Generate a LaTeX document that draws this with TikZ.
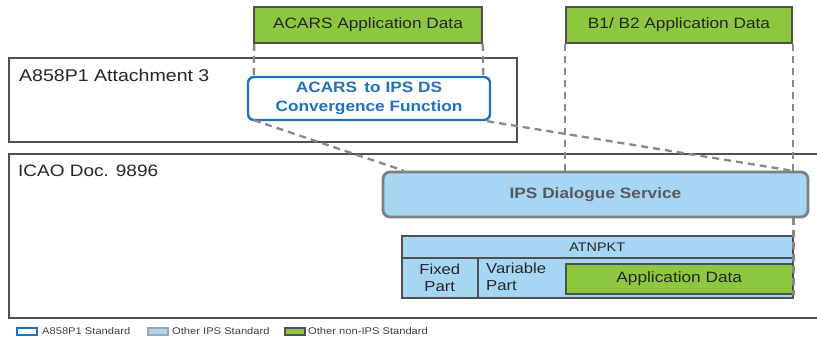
\documentclass[tikz,border=0pt]{standalone}
\usepackage{fontspec}
\setmainfont{Liberation Sans}[FakeStretch=1.15]
\usetikzlibrary{calc}
\definecolor{appgreen}{HTML}{8DC63F}
\definecolor{ipsblue}{HTML}{A7D5F4}
\definecolor{convblue}{HTML}{1F72BE}
\definecolor{dashgray}{HTML}{888888}
\definecolor{framegray}{HTML}{505050}
\definecolor{ipsborder}{HTML}{7F7F7F}
\definecolor{txtgray}{HTML}{595959}
\tikzset{
  greenbox/.style={draw=framegray, fill=appgreen, line width=1.6pt, inner sep=0pt,
    font=\fontsize{15}{18}\selectfont, text=black!85},
  framebox/.style={draw=framegray, line width=2pt, inner sep=0pt},
  convbox/.style={draw=convblue, fill=white, line width=2.4pt, rounded corners=6pt, inner sep=0pt,
    align=center, text=convblue, font=\fontsize{15}{19}\selectfont\bfseries},
  ipsbox/.style={draw=ipsborder, fill=ipsblue, line width=2.8pt, rounded corners=7pt, inner sep=0pt,
    text=txtgray, font=\fontsize{15}{18}\selectfont\bfseries},
  pktcell/.style={draw=framegray, fill=ipsblue, line width=1.5pt, inner sep=0pt,
    font=\fontsize{14.5}{17}\selectfont, text=black!85},
  dashline/.style={draw=dashgray, line width=2.3pt, dash pattern=on 7pt off 5pt},
  heading/.style={anchor=west, inner sep=0pt, font=\fontsize{17}{19}\selectfont, text=black!85},
  legicon/.style={minimum width=20pt, minimum height=7pt, inner sep=0pt, line width=1.3pt},
  legtext/.style={anchor=west, inner sep=0pt, font=\fontsize{9.7}{11}\selectfont, text=black!75}
}
\begin{document}
\begin{tikzpicture}[x=1pt, y=-1pt]
\useasboundingbox (0,0) rectangle (817,341);
\fill[white] (0,0) rectangle (817,341);
% outer frames
\node[framebox, minimum width=508pt, minimum height=84pt, anchor=north west] (att3) at (8,57) {};
\node[framebox, minimum width=830pt, minimum height=164pt, anchor=north west] (icao) at (8,153) {};
\node[heading] (att3lbl) at (19,75) {A858P1 Attachment 3};
\node[heading, font=\fontsize{16.5}{19}\selectfont] (icaolbl) at (18,171) {ICAO Doc. 9896};
% green application data boxes
\node[greenbox, minimum width=228pt, minimum height=36pt] (acapp) at (368,25) {ACARS Application Data};
\node[greenbox, minimum width=226pt, minimum height=36pt] (b1b2) at (679,25) {B1/ B2 Application Data};
% convergence function
\node[convbox, minimum width=242pt, minimum height=43pt] (conv) at (369,98.5) {ACARS\, to IPS DS\\Convergence Function};
% IPS dialogue service
\node[ipsbox, minimum width=425pt, minimum height=45pt] (ips) at (595.5,194.5) {IPS Dialogue Service};
% ATNPKT
\node[pktcell, minimum width=391pt, minimum height=22pt, anchor=north west, font=\fontsize{12.5}{14}\selectfont] (pkthead) at (401,235) {ATNPKT};
\node[pktcell, minimum width=76pt, minimum height=40pt, anchor=north west, align=center] (fixed) at (401,257) {Fixed\\Part};
\node[pktcell, minimum width=315pt, minimum height=40pt, anchor=north west] (varcell) at (477,257) {};
\node[anchor=west, inner sep=0pt, align=left, font=\fontsize{14.5}{17}\selectfont, text=black!85] (varlbl) at (486,277) {Variable\\Part};
\node[greenbox, minimum width=227pt, minimum height=30pt, anchor=north west, line width=1.5pt] (appdata) at (565,263) {Application Data};
% dashed connectors
\coordinate (c1) at ($(conv.south west)+(7,-1)$);
\coordinate (c2) at ($(ips.north west)+(22,0)$);
\coordinate (c3) at ($(conv.south east)+(-4,0)$);
\coordinate (c4) at ($(ips.north east)+(-18,0)$);
\draw[dashline] (c1) -- (c2);
\draw[dashline] (c3) -- (c4);
\draw[dashline] ($(acapp.south west)+(1,0)$) -- ($(conv.north west)+(7,0)$);
\draw[dashline] ($(acapp.south east)+(0,0)$) -- ($(conv.north east)+(-8,0)$);
\draw[dashline] (b1b2.south west) -- (b1b2.south west |- ips.north);
\draw[dashline] ($(b1b2.south east)+(0,0)$) -- ($(b1b2.south east |- ips.north)$);
\draw[dashline] ($(pkthead.north west)+(1,0)$ |- ips.south) -- ($(pkthead.north west)+(1,0)$);
\draw[dashline] (pkthead.north east |- ips.south) -- (appdata.south east);
% legend
\node[legicon, draw=convblue, fill=white, line width=2pt] (leg1) at (27,331.5) {};
\node[legtext] (leg1t) at (42,331.5) {A858P1 Standard};
\node[legicon, draw=ipsborder!70, fill=ipsblue] (leg2) at (158,331.5) {};
\node[legtext] (leg2t) at (172,331.5) {Other IPS Standard};
\node[legicon, draw=framegray, fill=appgreen] (leg3) at (295,331.5) {};
\node[legtext] (leg3t) at (308,331.5) {Other non-IPS Standard};
\end{tikzpicture}
\end{document}
